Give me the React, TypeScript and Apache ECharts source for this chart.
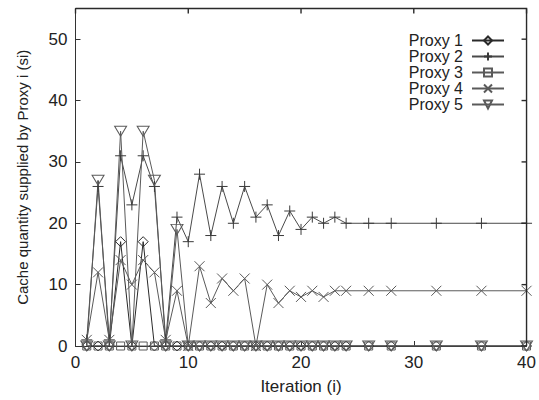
import React, { useEffect, useRef } from "react";
import * as echarts from "echarts";

const iterations = [1, 2, 3, 4, 5, 6, 7, 8, 9, 10, 11, 12, 13, 14, 15, 16, 17, 18, 19, 20, 21, 22, 23, 24, 26, 28, 32, 36, 40];
const proxy1 = [0, 0, 0, 17, 0, 17, 0, 0, 0, 0, 0, 0, 0, 0, 0, 0, 0, 0, 0, 0, 0, 0, 0, 0, 0, 0, 0, 0, 0];
const proxy2 = [1, 26, 1, 31, 23, 31, 26, 1, 21, 17, 28, 18, 26, 20, 26, 21, 23, 18, 22, 19, 21, 20, 21, 20, 20, 20, 20, 20, 20];
const proxy3 = [0, 0, 0, 0, 0, 0, 0, 0, 0, 0, 0, 0, 0, 0, 0, 0, 0, 0, 0, 0, 0, 0, 0, 0, 0, 0, 0, 0, 0];
const proxy4 = [1, 12, 1, 14, 10, 14, 12, 1, 9, 0, 13, 7, 11, 9, 11, 0, 10, 7, 9, 8, 9, 8, 9, 9, 9, 9, 9, 9, 9];
const proxy5 = [0, 27, 0, 35, 0, 35, 27, 0, 19, 0, 0, 0, 0, 0, 0, 0, 0, 0, 0, 0, 0, 0, 0, 0, 0, 0, 0, 0, 0];
const seriesNames = ["Proxy 1", "Proxy 2", "Proxy 3", "Proxy 4", "Proxy 5"];
const xTickValues = [0, 10, 20, 30, 40];
const yTickValues = [0, 10, 20, 30, 40, 50];
const xTicks = { min: 0, max: 40, interval: 10 };
const yTicks = { min: 0, max: 55, interval: 10 };

const FONT = "Liberation Sans, Arial, Helvetica, sans-serif";

const symbols = [
  { symbol: "path://M5,0L10,5L5,10L0,5Z", size: [10, 10] },
  { symbol: "path://M0,5L10,5M5,0L5,10", size: [11, 11] },
  { symbol: "path://M0,0L10,0L10,10L0,10Z", size: [8, 8] },
  { symbol: "path://M0,0L10,10M10,0L0,10", size: [10, 10] },
  { symbol: "path://M0,0L10,0L5,8.66Z", size: [12, 10] },
];
const lineColors = ["#2a2a2a", "#4a4a4a", "#5a5a5a", "#5a5a5a", "#5a5a5a"];
const markColors = ["#2a2a2a", "#3a3a3a", "#5a5a5a", "#5a5a5a", "#5a5a5a"];

export default function App() {
  const ref = useRef<HTMLDivElement>(null);
  useEffect(() => {
    if (!ref.current) return;
    const chart = echarts.init(ref.current, undefined, { renderer: "svg" });
    const all = [proxy1, proxy2, proxy3, proxy4, proxy5];
    const axisCommon = {
      axisLine: { show: true, onZero: false, lineStyle: { color: "#333", width: 1 } },
      axisTick: { show: true, inside: true, length: 5, lineStyle: { color: "#333" } },
      splitLine: { show: false },
    };
    chart.setOption({
      animation: false,
      backgroundColor: "#fff",
      grid: { left: 75.5, right: 8.5, top: 8.5, bottom: 53.5, containLabel: false },
      legend: {
        orient: "vertical",
        right: 34,
        top: 32.5,
        padding: 0,
        align: "right",
        itemWidth: 32,
        itemHeight: 10,
        itemGap: 0,
        data: seriesNames,
        textStyle: { fontSize: 16, lineHeight: 15, fontFamily: FONT, color: "#222", padding: [0, 4, 0, 0] },
      },
      xAxis: {
        type: "value",
        ...xTicks,
        ...axisCommon,
        name: "Iteration (i)",
        nameLocation: "middle",
        nameGap: 32,
        nameTextStyle: { fontSize: 17, fontFamily: FONT, color: "#222" },
        axisLabel: { fontSize: 17, fontFamily: FONT, color: "#222", margin: 8 },
      },
      yAxis: {
        type: "value",
        ...yTicks,
        ...axisCommon,
        name: "Cache quantity supplied by Proxy i (si)",
        nameLocation: "middle",
        nameGap: 46,
        nameTextStyle: { fontSize: 15, fontFamily: FONT, color: "#222" },
        axisLabel: { fontSize: 17, fontFamily: FONT, color: "#222", margin: 8, showMaxLabel: false },
      },
      series: all.map((vals, k) => ({
        name: seriesNames[k],
        type: "line",
        data: iterations.map((x, i) => [x, vals[i]]),
        symbol: symbols[k].symbol,
        symbolSize: symbols[k].size,
        showAllSymbol: true,
        lineStyle: { color: lineColors[k], width: 1 },
        itemStyle: { color: "rgba(0,0,0,0)", borderColor: markColors[k], borderWidth: 1 },
        emphasis: { disabled: true },
      })),
    });

    // frame (top/right edges) and mirrored ticks, placed through the axes' own scales
    const px = (x: number, y: number) => chart.convertToPixel({ xAxisIndex: 0, yAxisIndex: 0 }, [x, y]) as number[];
    const [x0, yBottom] = px(xTicks.min, yTicks.min);
    const [x1, yTop] = px(xTicks.max, yTicks.max);
    const stroke = { stroke: "#2a2a2a", lineWidth: 1.4 };
    const elems: any[] = [
      { type: "polyline", shape: { points: [[x0, yTop], [x1, yTop], [x1, yBottom]] }, style: { ...stroke, fill: null }, z: 10 },
    ];
    xTickValues.forEach((v) => {
      const x = px(v, 0)[0];
      elems.push({ type: "line", shape: { x1: x, y1: yTop, x2: x, y2: yTop + 5 }, style: stroke, z: 10 });
    });
    yTickValues.forEach((v) => {
      const y = px(0, v)[1];
      elems.push({ type: "line", shape: { x1: x1, y1: y, x2: x1 - 5, y2: y }, style: stroke, z: 10 });
    });
    chart.setOption({ graphic: { elements: elems } });
    return () => chart.dispose();
  }, []);
  return (
    <div
      ref={ref}
      style={{ position: "absolute", left: 0, top: 0, width: 539, height: 400 }}
    />
  );
}
